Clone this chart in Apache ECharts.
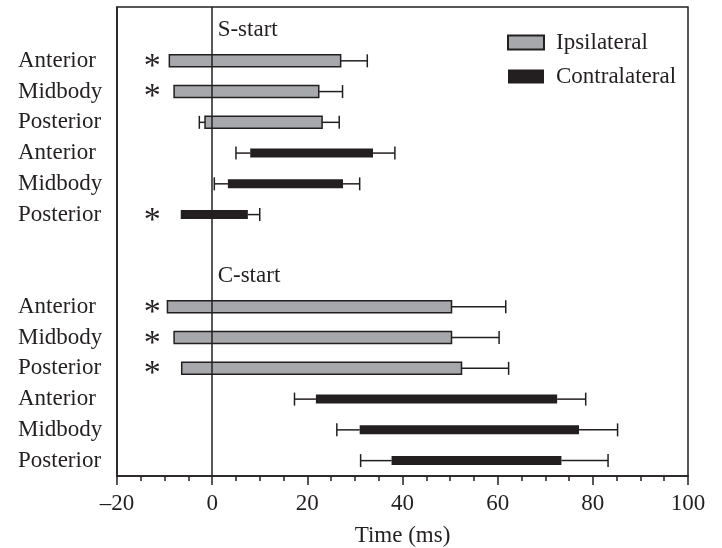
<!DOCTYPE html>
<html lang="en">
<head>
  <meta charset="UTF-8">
  <title>S-start / C-start timing</title>
  <script src="https://cdn.jsdelivr.net/npm/echarts@6/dist/echarts.min.js"></script>
</head>
<style>
  * {
    padding: 0px;
    margin: 0px;
  }
</style>
<body>
<div id="main" style="width:722px;height:548px;"></div>
</body>
</html>
<script>
  // row slots from top; 0 and 8 hold the section titles, 7 is empty
  var rowNames = ['', 'Anterior', 'Midbody', 'Posterior', 'Anterior', 'Midbody', 'Posterior', '',
    '', 'Anterior', 'Midbody', 'Posterior', 'Anterior', 'Midbody', 'Posterior'];
  var labelRows = [1, 2, 3, 4, 5, 6, 9, 10, 11, 12, 13, 14];
  var sectionRows = [0, 8];
  var sectionTitles = ['S-start', 'C-start'];

  // ipsilateral bars
  var ipsiRows = [1, 2, 3, 9, 10, 11];
  var ipsiStart = [-9.0, -8.0, -1.5, -9.4, -8.0, -6.4];
  var ipsiEnd = [27.0, 22.4, 23.1, 50.3, 50.3, 52.4];
  var ipsiErrLow = [null, null, -2.7, null, null, null];
  var ipsiErrHigh = [32.6, 27.4, 26.7, 61.7, 60.3, 62.3];

  // contralateral bars
  var contraRows = [4, 5, 6, 12, 13, 14];
  var contraStart = [8.0, 3.3, -6.6, 21.8, 31.0, 37.7];
  var contraEnd = [33.8, 27.5, 7.5, 72.5, 77.1, 73.4];
  var contraErrLow = [5.0, 0.45, null, 17.3, 26.2, 31.2];
  var contraErrHigh = [38.4, 31.0, 10.0, 78.5, 85.2, 83.2];

  // significance marks
  var starRows = [1, 2, 6, 9, 10, 11];
  var starX = -12.6;

  var ink = '#231f20';
  var font = 'Liberation Serif';

  function buildData(rows, start, end, lo, hi) {
    return rows.map(function (r, i) {
      return [r, start[i], end[i], lo[i] == null ? '-' : lo[i], hi[i]];
    });
  }

  function barRenderer(barHeight) {
    return function (params, api) {
      var row = api.value(0);
      var ps = api.coord([api.value(1), row]);
      var pe = api.coord([api.value(2), row]);
      var lo = api.value(3);
      var ph = api.coord([api.value(4), row]);
      var y = ps[1];
      var cap = 6.5;
      var line = {stroke: ink, lineWidth: 1.5};
      var children = [
        {type: 'line', shape: {x1: pe[0], y1: y, x2: ph[0], y2: y}, style: line},
        {type: 'line', shape: {x1: ph[0], y1: y - cap, x2: ph[0], y2: y + cap}, style: line}
      ];
      if (!isNaN(lo)) {
        var pl = api.coord([lo, row]);
        children.push({type: 'line', shape: {x1: pl[0], y1: y, x2: ps[0], y2: y}, style: line});
        children.push({type: 'line', shape: {x1: pl[0], y1: y - cap, x2: pl[0], y2: y + cap}, style: line});
      }
      children.push({
        type: 'rect',
        shape: {x: ps[0], y: y - barHeight / 2, width: pe[0] - ps[0], height: barHeight},
        style: api.style()
      });
      return {type: 'group', children: children};
    };
  }

  var myChart = echarts.init(document.getElementById('main'));
  myChart.setOption({
    backgroundColor: '#fff',
    animation: false,
    textStyle: {fontFamily: font, color: ink},
    grid: {
      left: 117,
      right: 34,
      top: 7,
      bottom: 72,
      outerBoundsMode: 'none',
      show: true,
      borderColor: ink,
      borderWidth: 1.5
    },
    legend: {
      orient: 'vertical',
      left: 507,
      top: 31,
      padding: 0,
      itemWidth: 36,
      itemHeight: 14,
      itemGap: 11,
      icon: 'rect',
      textStyle: {fontFamily: font, fontSize: 23, color: ink, padding: [0, 0, 0, 7]},
      data: ['Ipsilateral', 'Contralateral']
    },
    xAxis: {
      type: 'value',
      min: -20,
      max: 100,
      interval: 20,
      name: 'Time (ms)',
      nameLocation: 'middle',
      nameGap: 48,
      nameTextStyle: {fontFamily: font, fontSize: 23, color: ink},
      axisLine: {onZero: false, lineStyle: {color: ink, width: 1.5}},
      axisTick: {show: true, inside: false, length: 9, lineStyle: {color: ink, width: 1.5}},
      minorTick: {show: true, splitNumber: 4, length: 5, lineStyle: {color: ink, width: 1.5}},
      splitLine: {show: false},
      axisLabel: {
        margin: 16,
        fontFamily: font,
        fontSize: 23,
        color: ink,
        formatter: function (v) {
          return v < 0 ? '\u2013' + Math.abs(v) : String(v);
        }
      }
    },
    yAxis: {
      type: 'value',
      inverse: true,
      min: -0.75,
      max: 14.5,
      axisLine: {show: true, onZero: false, lineStyle: {color: ink, width: 1.5}},
      axisTick: {show: false},
      splitLine: {show: false},
      axisLabel: {
        customValues: labelRows,
        align: 'left',
        margin: 99,
        fontFamily: font,
        fontSize: 23,
        color: ink,
        formatter: function (v) {
          return rowNames[v];
        }
      }
    },
    series: [
      {
        name: 'Ipsilateral',
        type: 'custom',
        renderItem: barRenderer(12),
        itemStyle: {color: '#a7a8ab', borderColor: ink, borderWidth: 1.5},
        encode: {x: [1, 2, 4], y: 0},
        data: buildData(ipsiRows, ipsiStart, ipsiEnd, ipsiErrLow, ipsiErrHigh),
        z: 2
      },
      {
        name: 'Contralateral',
        type: 'custom',
        renderItem: barRenderer(9),
        itemStyle: {color: ink},
        encode: {x: [1, 2, 4], y: 0},
        data: buildData(contraRows, contraStart, contraEnd, contraErrLow, contraErrHigh),
        z: 2
      },
      {
        name: 'zero',
        type: 'line',
        data: [],
        z: 5,
        markLine: {
          silent: true,
          symbol: ['none', 'none'],
          label: {show: false},
          lineStyle: {color: ink, width: 1.5, type: 'solid'},
          data: [{xAxis: 0}]
        }
      },
      {
        name: 'stars',
        type: 'scatter',
        symbolSize: 1,
        itemStyle: {color: 'transparent', opacity: 1},
        label: {
          show: true,
          position: 'inside',
          formatter: '*',
          fontFamily: font,
          fontSize: 34,
          color: ink,
          offset: [0, 6]
        },
        data: starRows.map(function (r) { return [starX, r]; })
      },
      {
        name: 'sections',
        type: 'scatter',
        symbolSize: 1,
        itemStyle: {color: 'transparent', opacity: 1},
        label: {
          show: true,
          position: 'right',
          distance: 5,
          fontFamily: font,
          fontSize: 23,
          color: ink,
          formatter: function (p) {
            return sectionTitles[p.dataIndex];
          }
        },
        data: sectionRows.map(function (r) { return [0, r]; })
      }
    ]
  });
</script>
